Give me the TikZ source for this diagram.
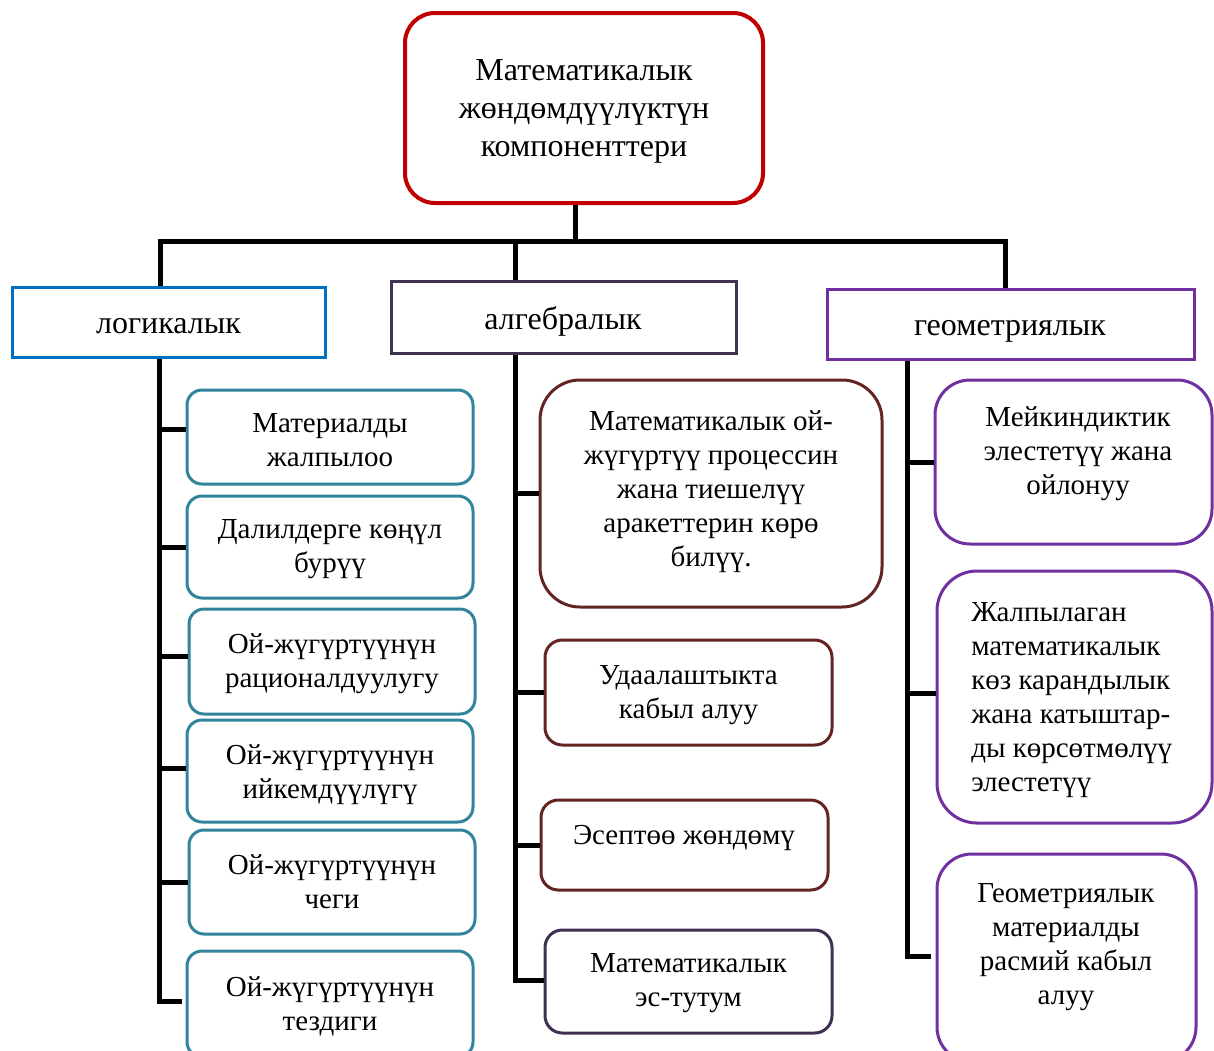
\documentclass[tikz,border=0pt]{standalone}
\usepackage{fontspec}
\setmainfont{Liberation Serif}
\usetikzlibrary{calc}
\definecolor{cred}{HTML}{C00000}
\definecolor{cblue}{HTML}{0070C0}
\definecolor{cteal}{HTML}{31849B}
\definecolor{cdpurple}{HTML}{3F3151}
\definecolor{cdred}{HTML}{632523}
\definecolor{cpurple}{HTML}{7030A0}
\begin{document}
\begin{tikzpicture}[x=0.75pt,y=-0.75pt,
  box/.style={draw, line width=2.25pt, inner sep=0pt},
  tealbox/.style={box, draw=cteal, rounded corners=11.25pt, minimum width=214.5pt},
  algbox/.style={box, draw=cdred, rounded corners=13pt, minimum width=215.25pt},
  geobox/.style={box, draw=cpurple, rounded corners=26.25pt},
  txt/.style={align=center, inner sep=0pt, text=black, font=\fontsize{21.75}{25.5}\selectfont},
  bigtxt/.style={txt, font=\fontsize{24}{28.5}\selectfont},
  conn/.style={draw=black, line width=3.75pt, line join=miter}]
\useasboundingbox (0,0) rectangle (1214,1050);
\clip (0,0) rectangle (1214,1050);

% top
\node[box, draw=cred, line width=3pt, rounded corners=22.5pt, minimum width=268.5pt,
  minimum height=142.5pt] (top) at (584,108) {};
\node[bigtxt] (topt) at (584,111) {Математикалык\\жөндөмдүүлүктүн\\компоненттери};

% categories
\node[box, draw=cblue, minimum width=234.75pt, minimum height=52.5pt] (log) at (168.5,322) {};
\node[bigtxt] (logt) at (168.5,326) {логикалык};
\node[box, draw=cdpurple, minimum width=258.75pt, minimum height=54pt] (alg) at (563.5,317) {};
\node[bigtxt] (algt) at (563,321) {алгебралык};
\node[box, draw=cpurple, minimum width=275.25pt, minimum height=52.5pt] (geo) at (1010.5,324) {};
\node[bigtxt] (geot) at (1010,331) {геометриялык};

% logical
\node[tealbox, minimum height=70.5pt] (t1) at (330,437) {};
\node[txt] (t1t) at (330,440) {Материалды\\жалпылоо};
\node[tealbox, minimum height=76.5pt] (t2) at (330,547) {};
\node[txt] (t2t) at (330,549) {Далилдерге көңүл\\бурүү};
\node[tealbox, minimum height=78.75pt] (t3) at (332,661.5) {};
\node[txt] (t3t) at (332,663.5) {Ой-жүгүртүүнүн\\рационалдуулугу};
\node[tealbox, minimum height=76.5pt] (t4) at (330,771) {};
\node[txt] (t4t) at (330,775) {Ой-жүгүртүүнүн\\ийкемдүүлүгү};
\node[tealbox, minimum height=78pt] (t5) at (332,882) {};
\node[txt] (t5t) at (332,882) {Ой-жүгүртүүнүн\\чеги};
\node[tealbox, minimum height=79.5pt] (t6) at (330,1004) {};
\node[txt] (t6t) at (330,1006) {Ой-жүгүртүүнүн\\тездиги};

% algebraic
\node[box, draw=cdred, rounded corners=30pt, minimum width=256.5pt, minimum height=170.25pt] (a1) at (711,493.5) {};
\node[txt] (a1t) at (711,491.5) {Математикалык ой-\\жүгүртүү процессин\\жана тиешелүү\\аракеттерин көрө\\билүү.};
\node[algbox, minimum height=78.75pt] (a2) at (688.5,692.5) {};
\node[txt] (a2t) at (688.5,695.5) {Удаалаштыкта\\кабыл алуу};
\node[algbox, minimum height=67.5pt] (a3) at (684.5,845) {};
\node[txt] (a3t) at (684,838) {Эсептөө жөндөмү};
\node[algbox, draw=cdpurple, minimum height=77.25pt] (a4) at (688.5,981.5) {};
\node[txt] (a4t) at (688.5,983.5) {Математикалык\\эс-тутум};

% geometric
\node[geobox, minimum width=207.75pt, minimum height=123pt] (g1) at (1073.5,462) {};
\node[txt] (g1t) at (1078,454) {Мейкиндиктик\\элестетүү жана\\ойлонуу};
\node[geobox, rounded corners=30pt, minimum width=206.25pt, minimum height=189pt] (g2) at (1074.5,697) {};
\node[txt, align=left, anchor=west] (g2t) at (971,700) {Жалпылаган\\математикалык\\көз карандылык\\жана катыштар-\\ды көрсөтмөлүү\\элестетүү};
\node[geobox, minimum width=194.25pt, minimum height=156pt] (g3) at (1066.5,958) {};
\node[txt] (g3t) at (1066,947) {Геометриялык\\материалды\\расмий кабыл\\алуу};

% bus
\coordinate (b0) at (575,241);
\coordinate (b1) at (160,241);
\coordinate (b2) at (515,241);
\coordinate (b3) at (1005,241);
\draw[conn] (top.south -| b0) -- (b0);
\draw[conn] (log.north -| b1) -- (b1) -- (b3) -- (geo.north -| b3);
\draw[conn] (b2) -- (alg.north -| b2);

% logical spine
\coordinate (ls) at (159,1001);
\draw[conn] (log.south -| ls) -- (ls) -- ([xshift=-3pt]t6.west |- ls);
\draw[conn] ([yshift=6pt]t1.west -| ls) -- ([yshift=6pt]t1.west);
\draw[conn] (t2.west -| ls) -- (t2.west);
\draw[conn] ([yshift=4pt]t3.west -| ls) -- ([yshift=4pt]t3.west);
\draw[conn] ([yshift=2pt]t4.west -| ls) -- ([yshift=2pt]t4.west);
\draw[conn] (t5.west -| ls) -- (t5.west);

% algebraic spine
\coordinate (as) at (515,980);
\draw[conn] (alg.south -| as) -- (as) -- (a4.west |- as);
\draw[conn] (a1.west -| as) -- (a1.west);
\draw[conn] (a2.west -| as) -- (a2.west);
\draw[conn] (a3.west -| as) -- (a3.west);

% geometric spine
\coordinate (gs) at (907,956);
\draw[conn] (geo.south -| gs) -- (gs) -- ([xshift=-3.5pt]g3.west |- gs);
\draw[conn] (g1.west -| gs) -- (g1.west);
\draw[conn] ([yshift=3pt]g2.west -| gs) -- ([yshift=3pt]g2.west);
\end{tikzpicture}
\end{document}
